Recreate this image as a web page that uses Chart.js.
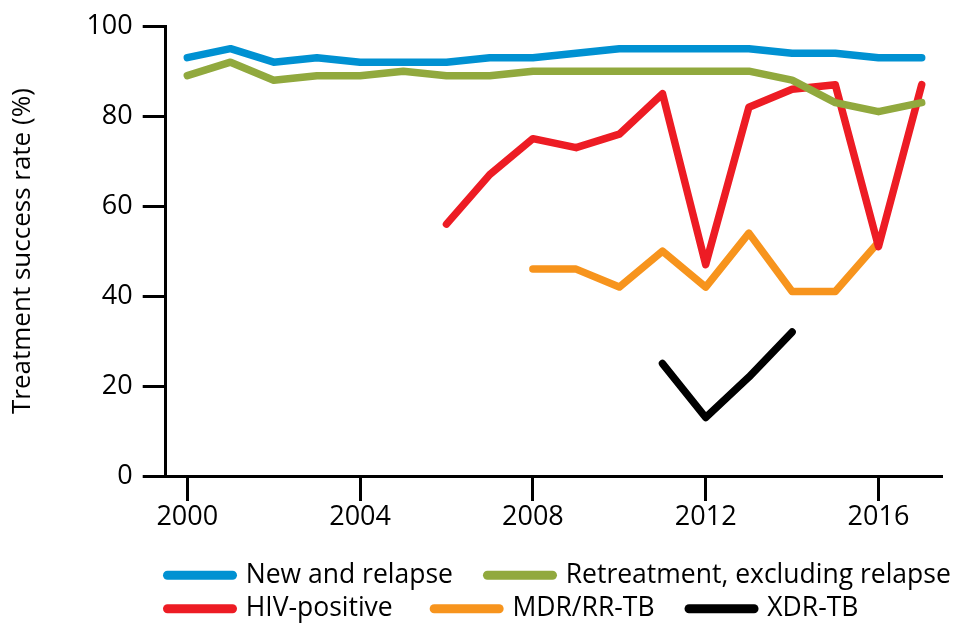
<!DOCTYPE html>
<html>
<head>
<meta charset="utf-8">
<script src="https://cdn.jsdelivr.net/npm/chart.js@4.4.1/dist/chart.umd.min.js"></script>
<style>
html,body{margin:0;padding:0;background:#fff;}
#wrap{width:961px;height:637px;position:relative;}
</style>
</head>
<body>
<div id="wrap"><canvas id="c"></canvas></div>
<script>
const years = [2000,2001,2002,2003,2004,2005,2006,2007,2008,2009,2010,2011,2012,2013,2014,2015,2016,2017];
const newRelapse  = [93,95,92,93,92,92,92,93,93,94,95,95,95,95,94,94,93,93];
const retreatment = [89,92,88,89,89,90,89,89,90,90,90,90,90,90,88,83,81,83];
const hivPositive = [null,null,null,null,null,null,56,67,75,73,76,85,47,82,86,87,51,87];
const mdrRrTb     = [null,null,null,null,null,null,null,null,46,46,42,50,42,54,41,41,52,null];
const xdrTb       = [null,null,null,null,null,null,null,null,null,null,null,25,13,22,32,null,null,null];
const seriesNames = ['New and relapse','Retreatment, excluding relapse','HIV-positive','MDR/RR-TB','XDR-TB'];
const xTickYears = [2000,2004,2008,2012,2016];
const yTickValues = [0,20,40,60,80,100];
const yTitle = 'Treatment success rate (%)';

const colors = ['#0091D2','#91A93E','#ED1C24','#F7941D','#000000'];
const legendPad = ['    ','','     ','    ',''];
const allSeries = [newRelapse, retreatment, hivPositive, mdrRrTb, xdrTb];

const datasets = allSeries.map((vals, i) => ({
  label: seriesNames[i],
  data: years.map((yr, j) => ({x: yr, y: vals[j]})),
  borderColor: colors[i],
  backgroundColor: colors[i],
  borderWidth: 7.5,
  borderCapStyle: 'round',
  borderJoinStyle: 'round',
  pointRadius: 0,
  pointHoverRadius: 0,
  tension: 0,
  fill: false,
  spanGaps: false
}));

const FONT = "'Open Sans', 'DejaVu Sans', sans-serif";

const legendShift = {
  id: 'legendShift',
  afterLayout(chart) {
    const lg = chart.legend;
    if (lg) { lg.left = 160.5; lg.right = 961; }
  }
};

new Chart(document.getElementById('c'), {
  type: 'line',
  data: { datasets },
  plugins: [legendShift],
  options: {
    responsive: true,
    maintainAspectRatio: false,
    animation: false,
    devicePixelRatio: 1,
    layout: { padding: { top: 25, right: 19, bottom: 5, left: 0 } },
    scales: {
      x: {
        type: 'linear',
        min: 1999.5,
        max: 2017.47,
        afterBuildTicks(scale) { scale.ticks = xTickYears.map(v => ({value: v})); },
        afterFit(scale) { scale.height = 79; },
        grid: { drawOnChartArea: false, drawTicks: true, tickLength: 25, tickWidth: 3, tickColor: '#000' },
        border: { display: true, color: '#000', width: 3 },
        ticks: { color: '#000', font: { family: FONT, size: 27 }, padding: 0, maxRotation: 0, autoSkip: false,
                 callback: v => String(v) }
      },
      y: {
        min: 0, max: 100,
        afterBuildTicks(scale) { scale.ticks = yTickValues.map(v => ({value: v})); },
        afterFit(scale) { scale.width = 165.7; },
        grid: { drawOnChartArea: false, drawTicks: true, tickLength: 23, tickWidth: 3, tickColor: '#000' },
        border: { display: true, color: '#000', width: 3 },
        ticks: { color: '#000', font: { family: FONT, size: 27 }, padding: 10 },
        title: { display: true, text: yTitle, color: '#000', font: { family: FONT, size: 26 }, padding: { top: 7, bottom: 0 } }
      }
    },
    plugins: {
      tooltip: { enabled: false },
      legend: {
        display: true,
        position: 'bottom',
        align: 'start',
        labels: {
          color: '#000',
          font: { family: FONT, size: 26.5 },
          padding: 7,
          usePointStyle: true,
          pointStyleWidth: 65,
          generateLabels(chart) {
            const items = Chart.defaults.plugins.legend.labels.generateLabels(chart);
            items.forEach((it, i) => {
              it.lineWidth = 9;
              it.pointStyle = 'line';
              it.lineCap = 'round';
              it.strokeStyle = colors[i];
              it.text = it.text + legendPad[i];
            });
            return items;
          }
        }
      }
    }
  }
});
</script>
</body>
</html>
